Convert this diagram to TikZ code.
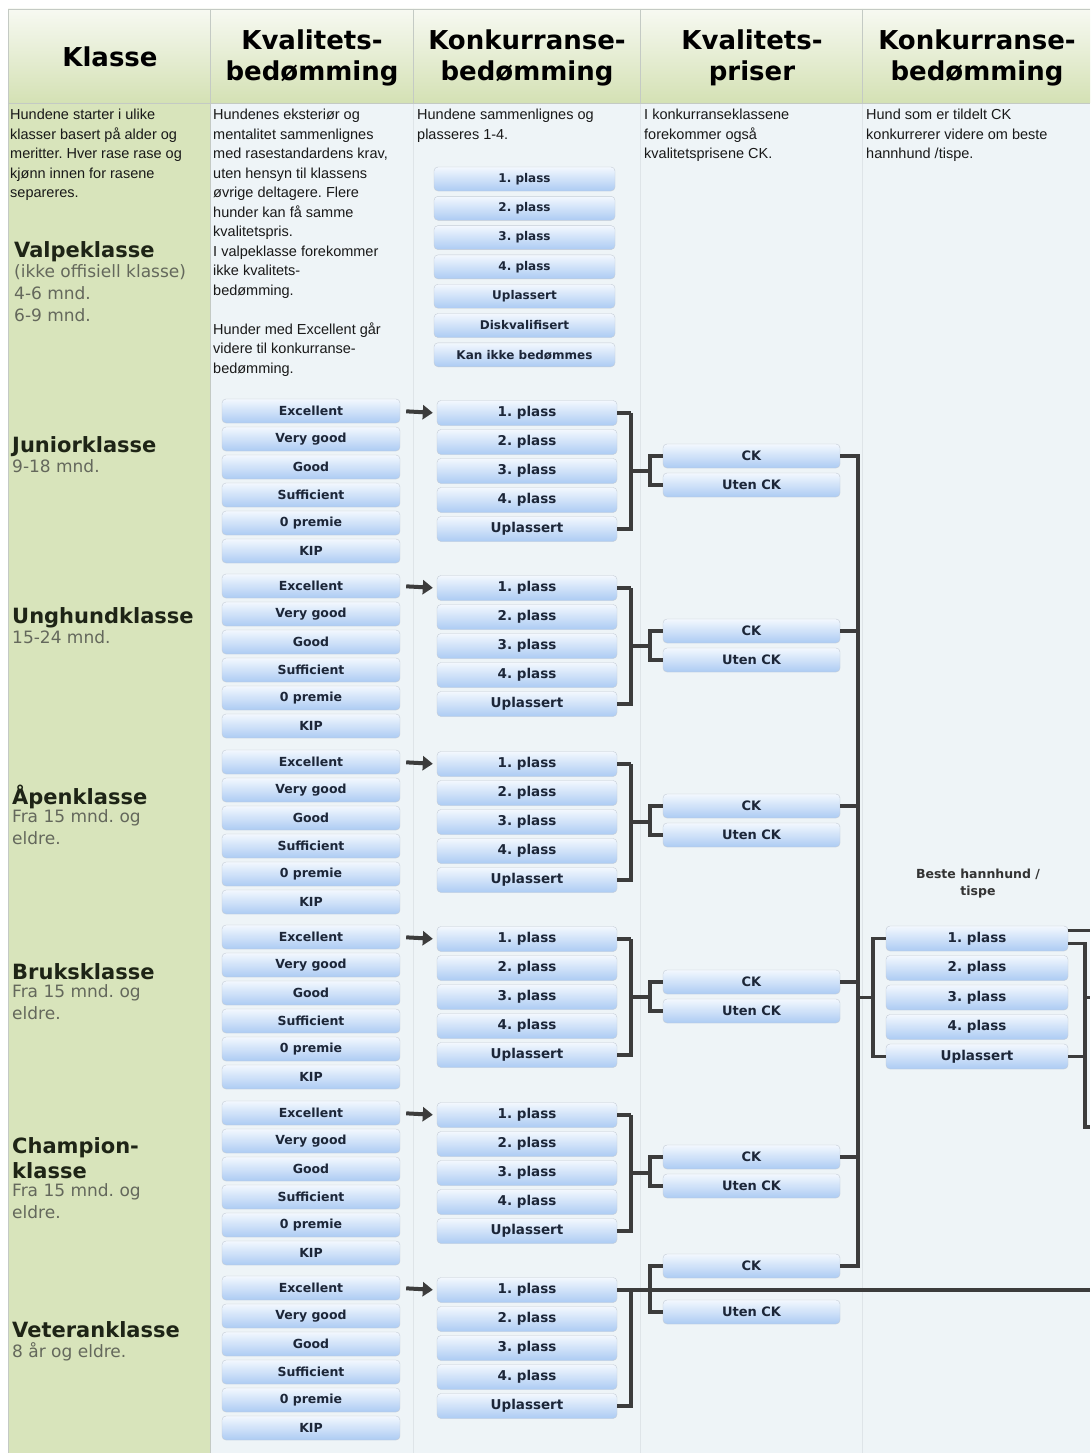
\documentclass[tikz,border=0pt]{standalone}
\usepackage{fontspec}
\setmainfont{DejaVu Sans}
\newfontfamily\bodyfont{Liberation Sans}
\usetikzlibrary{arrows.meta,calc}
\frenchspacing

\definecolor{classbg}{RGB}{216,228,187}
\definecolor{bodybg}{RGB}{238,244,247}
\definecolor{hdtop}{RGB}{247,249,242}
\definecolor{hdbot}{RGB}{212,225,180}
\definecolor{gridcol}{RGB}{196,202,196}
\definecolor{faintcol}{RGB}{222,228,232}
\definecolor{boxtop}{RGB}{243,248,254}
\definecolor{boxbot}{RGB}{172,203,243}
\definecolor{boxline}{RGB}{196,204,214}
\definecolor{boxtext}{RGB}{28,38,56}
\definecolor{linkcol}{RGB}{60,60,60}
\definecolor{namecol}{RGB}{30,36,22}
\definecolor{subcol}{RGB}{100,104,92}

\begin{document}
\begin{tikzpicture}[x=1pt,y=-1pt,
            box/.style = {rectangle, rounded corners=4pt, draw=boxline, thin,
                top color=boxtop, bottom color=boxbot, text=boxtext,
                inner sep=0pt, minimum height=24pt},
            kval/.style = {box, minimum width=178pt,
                font=\bfseries\fontsize{12.5}{14}\selectfont},
            konk/.style = {box, minimum width=180pt, minimum height=25pt,
                font=\bfseries\fontsize{13.5}{15}\selectfont},
            valpe/.style = {box, minimum width=181pt,
                font=\bfseries\fontsize{12}{14}\selectfont},
            pris/.style = {box, minimum width=177pt,
                font=\bfseries\fontsize{13}{15}\selectfont},
            head/.style = {align=center, text=black,
                font=\bfseries\fontsize{26}{31}\selectfont},
            desc/.style = {anchor=north west, inner sep=0pt, align=left,
                text=black!90, font=\bodyfont\fontsize{14.5}{19.5}\selectfont},
            kname/.style = {anchor=west, inner sep=0pt, align=left, text=namecol,
                font=\bfseries\fontsize{21}{25}\selectfont},
            ksub/.style = {anchor=north west, inner sep=0pt, align=left, text=subcol,
                font=\fontsize{17}{22}\selectfont},
            link/.style = {draw=linkcol, line width=3.5pt},
            arrow/.style = {link, line width=4pt, shorten <=6pt, shorten >=4pt,
                -{Triangle[length=10pt,width=14pt]}}]

        \useasboundingbox (0,0) rectangle (1090,1453);
        \fill[white] (0,0) rectangle (1090,1453);

        % Columns
        \fill[bodybg] (8,103) rectangle (1090,1453);
        \fill[classbg] (8,103) rectangle (210,1453);
        \shade[top color=hdtop, bottom color=hdbot] (8,9) rectangle (1090,103);
        \foreach \x in {413,640,862}
            \draw[faintcol] (\x,103) -- (\x,1453);
        \draw[gridcol] (8,1453) -- (8,9) -- (1090,9);
        \draw[gridcol] (8,103) -- (1090,103);
        \foreach \x in {210,413,640,862}
            \draw[gridcol] (\x,9) -- (\x,103);
        \draw[gridcol] (210,103) -- (210,1453);

        % Header
        \node[head] (h-klasse) at (110,57) {Klasse};
        \node[head] (h-kval) at (312,58) {Kvalitets-\\bedømming};
        \node[head] (h-konk) at (527,58) {Konkurranse-\\bedømming};
        \node[head] (h-pris) at (752,58) {Kvalitets-\\priser};
        \node[head] (h-beste) at (977,58) {Konkurranse-\\bedømming};

        % Descriptions
        \node[desc] (d-klasse) at (10,109) {Hundene starter i ulike\\klasser basert på alder og\\meritter. Hver rase rase og\\kjønn innen for rasene\\separeres.};
        \node[desc] (d-kval) at (213,109) {Hundenes eksteriør og\\mentalitet sammenlignes\\med rasestandardens krav,\\uten hensyn til klassens\\øvrige deltagere. Flere\\hunder kan få samme\\kvalitetspris.\\I valpeklasse forekommer\\ikke kvalitets-\\bedømming.\\[19.5pt]Hunder med Excellent går\\videre til konkurranse-\\bedømming.};
        \node[desc] (d-konk) at (417,109) {Hundene sammenlignes og\\plasseres 1-4.};
        \node[desc] (d-pris) at (644,109) {I konkurranseklassene\\forekommer også\\kvalitetsprisene CK.};
        \node[desc] (d-beste) at (866,109) {Hund som er tildelt CK\\konkurrerer videre om beste\\hannhund /tispe.};

        % Klasser
        \node[kname] (k-valpe) at (14,252) {Valpeklasse};
        \node[ksub] at (14,264) {(ikke offisiell klasse)\\4-6 mnd.\\6-9 mnd.};
        \node[kname] (k-junior) at (12,447) {Juniorklasse};
        \node[ksub] at (12,459) {9-18 mnd.};
        \node[kname] (k-unghund) at (12,618) {Unghundklasse};
        \node[ksub] at (12,630) {15-24 mnd.};
        \node[kname] (k-apen) at (12,797) {Åpenklasse};
        \node[ksub] at (12,809) {Fra 15 mnd. og\\eldre.};
        \node[kname] (k-bruks) at (12,972) {Bruksklasse};
        \node[ksub] at (12,984) {Fra 15 mnd. og\\eldre.};
        \node[kname] (k-champion) at (12,1158.5) {Champion-\\klasse};
        \node[ksub] at (12,1183) {Fra 15 mnd. og\\eldre.};
        \node[kname] (k-veteran) at (12,1330) {Veteranklasse};
        \node[ksub] at (12,1342) {8 år og eldre.};

        % Valpeklasse: konkurranse only
        \foreach \t [count=\k] in {1. plass,2. plass,3. plass,4. plass,Uplassert,Diskvalifisert,Kan ikke bedømmes}
            \node[valpe] (vk-\k) at (524.5,149.7+29.3*\k) {\t};

        \coordinate (bus) at (858,0);
        \coordinate (edge) at (1090,0);
        \coordinate (rbar) at (1085,0);
        \coordinate (rbot) at (1085,1127);

        % Class groups
        \foreach \i/\y/\c/\u in {1/411/456/485,2/586/631/660,3/762/806/835,
                                 4/937/982/1011,5/1113/1157/1186,6/1288/1266/1312} {
            \foreach \t [count=\k] in {Excellent,Very good,Good,Sufficient,0 premie,KIP}
                \node[kval] (kv-\i-\k) at (311,\y+28*\k-28) {\t};
            \foreach \t [count=\k] in {1. plass,2. plass,3. plass,4. plass,Uplassert}
                \node[konk] (ko-\i-\k) at (527,\y+29*\k-27) {\t};
            \node[pris] (ck-\i) at (751.5,\c) {CK};
            \node[pris] (uck-\i) at (751.5,\u) {Uten CK};

            \draw[arrow] (kv-\i-1.east) -- (ko-\i-1.west);
            \draw[link] ([xshift=14pt]ko-\i-1.east) |- (ko-\i-5.east);
            \draw[link] (ck-\i.west) -- ++(-13,0) |- (uck-\i.west);
        }

        % Konkurranse -> kvalitetspriser
        \foreach \i in {1,...,5} {
            \draw[link] (ko-\i-1.east) -- ++(14,0);
            \draw[link] ([xshift=14pt]ko-\i-3.east) -- ([xshift=-13pt]ko-\i-3.east -| ck-\i.west);
        }
        \draw[link] (ko-6-1.east) -- (ko-6-1.east -| edge);

        % CK -> beste hannhund / tispe
        \draw[link] (ck-1.east) -| (ck-6.east -| bus) -- (ck-6.east);
        \foreach \i in {2,...,5}
            \draw[link] (ck-\i.east) -- (ck-\i.east -| bus);

        \node[align=center, text=black!80, font=\bfseries\fontsize{12.5}{17}\selectfont]
            (beste) at (978,884) {Beste hannhund /\\tispe};
        \foreach \t [count=\k] in {1. plass,2. plass,3. plass,4. plass,Uplassert}
            \node[konk, minimum width=182pt] (be-\k) at (977,909+29.5*\k) {\t};

        \draw[link] (be-1.west) -- ++(-13,0) |- (be-5.west);
        \draw[link] (be-3.west -| bus) -- ([xshift=-13pt]be-3.west);

        % Right edge
        \draw[link] ([yshift=8pt]be-1.east) -- ([yshift=8pt]be-1.east -| edge);
        \draw[link] ([yshift=-5pt]be-1.east) -| (rbot) -- (rbot -| edge);
        \draw[link] (be-5.east) -- (be-5.east -| rbar);
        \draw[link] (be-3.east -| rbar) -- (be-3.east -| edge);

\end{tikzpicture}
\end{document}
